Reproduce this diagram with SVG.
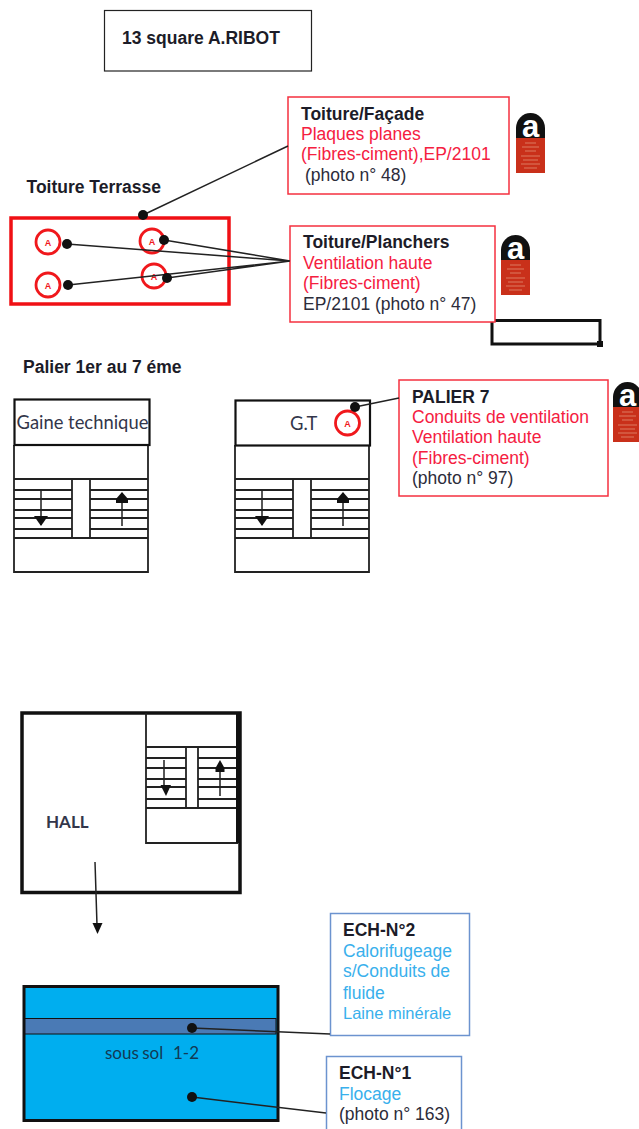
<svg xmlns="http://www.w3.org/2000/svg" width="639" height="1129" viewBox="0 0 639 1129">
<style>
text{font-family:"Liberation Sans",Arial,sans-serif;font-size:17.500px;fill:#2c2c3a}
.b{font-weight:bold;fill:#1c1c28}
.r{fill:#f5203f}
.c{fill:#39b0ec}
.s{font-family:Lato,"Open Sans",sans-serif;font-size:18.400px;fill:#33364a}
.box{fill:#fff;stroke:#f5303f;stroke-width:1.500}
.bbox{fill:#fff;stroke:#6c93cf;stroke-width:1.500}
.t{fill:none;stroke:#222;stroke-width:1.800}
.l{fill:none;stroke:#222;stroke-width:1.500}
.ring{fill:#fff;stroke:#f0181c;stroke-width:2.800}
.a{font-size:9px;font-weight:bold;fill:#f0181c;text-anchor:middle}
.lab-r{fill:#c9301a}
.lab-k{fill:#111}
.lab-a{font-size:31px;font-weight:bold;fill:#fff;text-anchor:middle}
</style>
<defs>
<g id="label">
<path class="lab-k" d="M0 26V15A14.500 15 0 0 1 29 15V26Z"/>
<text class="lab-a" x="14.500" y="24">a</text>
<rect class="lab-r" x="0" y="25" width="29" height="35"/>
<path d="M9 30H20M6 34H23M9 38H20M5 43H24M7 47H22M5 51H24M8 55H21" stroke="#dc7a60" stroke-width="1" fill="none"/>
</g>
<g id="stairs">
<path class="t" d="M0 0V127H134V0"/>
<path class="t" d="M0 34H134M0 45H58M76 45H134M0 54H58M76 54H134M0 65H58M76 65H134M0 73H58M76 73H134M0 84H58M76 84H134M0 93H134"/>
<path class="t" d="M58 34V93M76 34V93"/>
<path class="l" stroke-width="2" d="M27 45V80M108 48V81"/>
<path fill="#111" d="M20 71H34L27 81Z"/>
<path fill="#111" d="M102 58V54L108 47L114 54V58Z"/>
</g>
</defs>
<g id="title"><rect x="104.500" y="10.500" width="207" height="60.500" fill="#fff" stroke="#222" stroke-width="1.200"/><text class="b" x="122" y="44">13 square A.RIBOT</text></g>
<g id="toiture-terrasse">
<text class="b" x="26.500" y="193">Toiture Terrasse</text>
<rect x="11" y="218" width="218" height="86" fill="#fff" stroke="#f01015" stroke-width="3.500"/>
<circle class="ring" cx="48" cy="242" r="12"/><text class="a" x="48" y="246">A</text>
<circle class="ring" cx="152" cy="241" r="12"/><text class="a" x="152" y="245">A</text>
<circle class="ring" cx="48" cy="285" r="12"/><text class="a" x="48" y="289">A</text>
<circle class="ring" cx="154" cy="276" r="12"/><text class="a" x="154" y="280">A</text>
</g>
<g id="toiture-facade">
<rect class="box" x="288" y="97" width="221" height="97"/>
<text class="b" x="301" y="120">Toiture/Façade</text>
<text class="r" x="301" y="140">Plaques planes</text>
<text class="r" x="301" y="160">(Fibres-ciment),EP/2101</text>
<text x="305" y="181">(photo n° 48)</text>
<use href="#label" x="516" y="113"/>
</g>
<g id="empty-box"><path d="M492 320.500H600V344H492Z" fill="none" stroke="#111" stroke-width="3"/><rect x="597" y="341" width="6" height="6" fill="#111"/></g>
<g id="toiture-planchers">
<rect class="box" x="290" y="226" width="205" height="96"/>
<text class="b" x="303" y="248">Toiture/Planchers</text>
<text class="r" x="303" y="269">Ventilation haute</text>
<text class="r" x="303" y="289">(Fibres-ciment)</text>
<text x="303" y="310">EP/2101 (photo n° 47)</text>
<use href="#label" x="501" y="235"/>
</g>
<g id="palier-title"><text class="b" x="23" y="373">Palier 1er au 7 éme</text></g>
<g id="gaine">
<use href="#stairs" x="14" y="445"/>
<rect x="14.500" y="399.500" width="135" height="45.500" fill="#fff" stroke="#111" stroke-width="2.200"/>
<text class="s" x="16.500" y="429">Gaine technique</text>
</g>
<g id="gt">
<use href="#stairs" x="235" y="445"/>
<rect x="235.500" y="400.500" width="134.500" height="45" fill="#fff" stroke="#111" stroke-width="2.200"/>
<text class="s" x="290" y="430">G.T</text>
<circle class="ring" cx="347.500" cy="423" r="12"/><text class="a" x="347.500" y="427">A</text>
</g>
<g id="palier7">
<rect class="box" x="399" y="380" width="209" height="116"/>
<text class="b" x="412" y="403">PALIER 7</text>
<text class="r" x="412" y="423">Conduits de ventilation</text>
<text class="r" x="412" y="443">Ventilation haute</text>
<text class="r" x="412" y="464">(Fibres-ciment)</text>
<text x="412" y="484">(photo n° 97)</text>
<use href="#label" x="613" y="382"/>
</g>
<g id="hall">
<rect x="22" y="713" width="218" height="179.500" fill="#fff" stroke="#111" stroke-width="3.500"/>
<path class="t" d="M146 713V843H238"/>
<path class="t" d="M146 747H237M146 758H186M198 758H237M146 768H186M198 768H237M146 779H186M198 779H237M146 787H186M198 787H237M146 799H186M198 799H237M146 808H237M186 747V808M198 747V808"/>
<rect x="236" y="713" width="5" height="130" fill="#111"/>
<path class="l" d="M164 760V790M220 765V796"/>
<path fill="#111" d="M160.500 785H171L166 796Z"/><path fill="#111" d="M215.500 772V768L220 760L224.500 768V772Z"/>
<text class="s" x="46" y="828" style="font-weight:bold;font-size:17px">HALL</text>
</g>
<g id="sous-sol">
<rect x="24" y="986.500" width="254" height="134" fill="#00aeef" stroke="#111" stroke-width="3"/>
<rect x="25" y="1018.500" width="251" height="15.500" fill="#4a7ab5" stroke="#111" stroke-width="1"/>
<text class="s" x="105" y="1059" style="fill:#123a55;font-size:17px;word-spacing:-1px">sous sol <tspan x="173">1-2</tspan></text>
</g>
<g id="ech2">
<rect class="bbox" x="330.500" y="913.500" width="139" height="122"/>
<text class="b" x="343" y="936">ECH-N°2</text>
<text class="c" x="343" y="957">Calorifugeage</text>
<text class="c" x="343" y="977">s/Conduits de</text>
<text class="c" x="343" y="999">fluide</text>
<text class="c" x="343" y="1019" style="font-size:16.500px">Laine minérale</text>
</g>
<g id="ech1">
<rect class="bbox" x="326.500" y="1056.500" width="135" height="80"/>
<text class="b" x="339" y="1079">ECH-N°1</text>
<text class="c" x="339" y="1100">Flocage</text>
<text x="339" y="1120">(photo n° 163)</text>
</g>
<g id="connectors" fill="#111">
<path class="l" d="M143 215L288 146M67 244L290 261M164 240L290 261M68 285L290 261M167 278L290 261M355 407L399 398"/>
<path class="l" d="M192 1028L330 1034M192 1097L326 1113"/>
<path class="l" d="M95 862L97 925"/>
<path d="M92.500 923H102.500L97.500 934Z"/>
<circle cx="143" cy="215" r="5"/><circle cx="67" cy="244" r="5"/><circle cx="164" cy="240" r="5"/><circle cx="68" cy="285" r="5"/><circle cx="167" cy="278" r="5"/><circle cx="355" cy="407" r="5"/><circle cx="192" cy="1028" r="5"/><circle cx="192" cy="1097" r="5"/>
</g>
</svg>
